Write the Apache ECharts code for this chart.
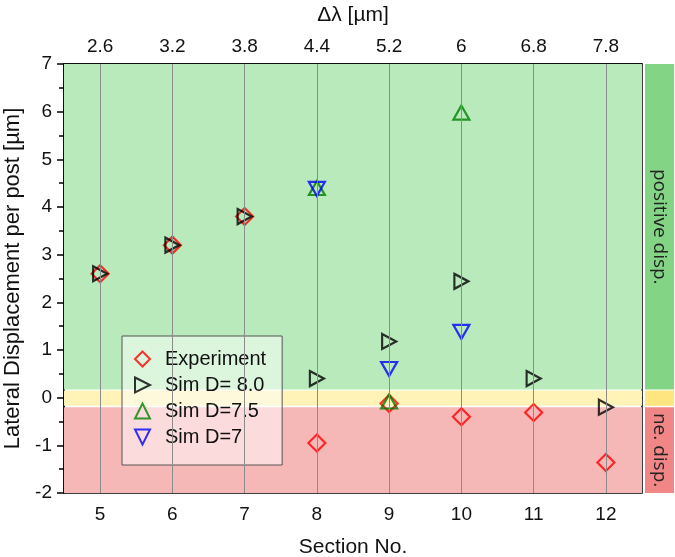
<!DOCTYPE html>
<html>
<head>
<meta charset="utf-8">
<script src="https://cdn.jsdelivr.net/npm/echarts@6/dist/echarts.min.js"></script>
<style>
  html, body { margin: 0; padding: 0; background: #fff; }
  #chart { width: 675px; height: 557px; }
</style>
</head>
<body>
<div id="chart"></div>
<script>
// section numbers and the matching wavelength shift labels (top axis)
var sections = [5, 6, 7, 8, 9, 10, 11, 12];
var dLambda = ["2.6", "3.2", "3.8", "4.4", "5.2", "6", "6.8", "7.8"];

// measured / simulated lateral displacement per post [µm]
var experiment = [2.6, 3.2, 3.8, -0.95, -0.12, -0.4, -0.31, -1.36];
var simD80 = [2.6, 3.2, 3.8, 0.4, 1.18, 2.44, 0.4, -0.2];
var simD75Sections = [8, 9, 10];
var simD75 = [4.4, -0.08, 5.98];
var simD7Sections = [8, 9, 10];
var simD7 = [4.38, 0.6, 1.38];

// background bands: positive / zero / negative displacement
var bandPos = [0.17, 7];
var bandZero = [-0.17, 0.15];
var bandNeg = [-2, -0.2];

function pairs(xs, ys) {
  return xs.map(function (x, i) { return [x, ys[i]]; });
}

var font = "Liberation Sans, Arial, sans-serif";
var narrow = "Liberation Sans Narrow, Arial Narrow, Liberation Sans, sans-serif";
var rightTri = "path://M0,0 L10,5 L0,10 Z";
var downTri = "path://M0,0 L10,0 L5,10 Z";

function hollow(color) {
  return { color: "rgba(0,0,0,0)", borderColor: color, borderWidth: 2.2 };
}

var chart = echarts.init(document.getElementById("chart"));
chart.setOption({
  animation: false,
  grid: [
    { left: 64, right: 33, top: 64, bottom: 64, outerBoundsMode: "none", show: true, borderColor: "#000", borderWidth: 1.5 },
    { left: 645, right: 1, top: 64, bottom: 64, outerBoundsMode: "none" }
  ],
  legend: {
    orient: "vertical",
    left: 122,
    top: 336,
    padding: [13, 16, 18, 12],
    itemGap: 6,
    itemWidth: 15,
    itemHeight: 15,
    backgroundColor: "rgba(255,255,255,0.5)",
    borderColor: "#555",
    borderWidth: 1,
    textStyle: { fontFamily: font, fontSize: 20, color: "#111", padding: [0, 0, 0, 10] },
    data: ["Experiment", "Sim D= 8.0", "Sim D=7.5", "Sim D=7"]
  },
  xAxis: [
    {
      type: "value", gridIndex: 0, min: 4.5, max: 12.5,
      name: "Section No.", nameLocation: "middle", nameGap: 44,
      nameTextStyle: { fontFamily: font, fontSize: 21, color: "#111" },
      axisLine: { show: true, lineStyle: { color: "#000", width: 1.5 } },
      axisTick: { show: true, inside: false, length: 5, customValues: sections, lineStyle: { color: "#000", width: 1.5 } },
      axisLabel: { customValues: sections, margin: 12, fontFamily: narrow, fontSize: 19, color: "#111" },
      splitLine: { show: false }
    },
    {
      type: "value", gridIndex: 0, position: "top", min: 4.5, max: 12.5,
      name: "Δλ [µm]", nameLocation: "middle", nameGap: 38,
      nameTextStyle: { fontFamily: font, fontSize: 21, color: "#111" },
      axisLine: { show: true, lineStyle: { color: "#000", width: 1.5 } },
      axisTick: { show: true, inside: true, length: 6, customValues: sections, lineStyle: { color: "#000", width: 1.5 } },
      axisLabel: {
        customValues: sections, margin: 8, fontFamily: narrow, fontSize: 19, color: "#111",
        formatter: function (v) { return dLambda[sections.indexOf(v)]; }
      },
      splitLine: { show: false }
    },
    { type: "value", gridIndex: 1, min: 0, max: 1, show: false }
  ],
  yAxis: [
    {
      type: "value", gridIndex: 0, min: -2, max: 7, interval: 1,
      name: "Lateral Displacement per post [µm]", nameLocation: "middle", nameGap: 40,
      nameTextStyle: { fontFamily: font, fontSize: 22, color: "#111" },
      axisLine: { show: true, lineStyle: { color: "#000", width: 1.5 } },
      axisTick: { show: true, inside: false, length: 7, lineStyle: { color: "#000", width: 1.5 } },
      minorTick: { show: true, splitNumber: 2, length: 5, lineStyle: { color: "#000", width: 1.5 } },
      axisLabel: { margin: 12, fontFamily: narrow, fontSize: 19, color: "#111" },
      splitLine: { show: false }
    },
    { type: "value", gridIndex: 1, min: -2, max: 7, show: false }
  ],
  series: [
    {
      name: "bands", type: "scatter", xAxisIndex: 0, yAxisIndex: 0, data: [], silent: true,
      markArea: {
        silent: true,
        data: [
          [{ yAxis: bandPos[0], itemStyle: { color: "#b8eabb" } }, { yAxis: bandPos[1] }],
          [{ yAxis: bandZero[0], itemStyle: { color: "#fff3b8" } }, { yAxis: bandZero[1] }],
          [{ yAxis: bandNeg[0], itemStyle: { color: "#f6b7b7" } }, { yAxis: bandNeg[1] }]
        ]
      },
      markLine: {
        silent: true, symbol: "none", label: { show: false },
        lineStyle: { color: "#8c8c8c", width: 1, type: "solid" },
        data: sections.map(function (s) { return { xAxis: s }; })
      }
    },
    {
      name: "strip", type: "scatter", xAxisIndex: 2, yAxisIndex: 1, data: [], silent: true,
      markArea: {
        silent: true,
        label: { show: true, position: "inside", rotate: -90, fontFamily: "Open Sans, sans-serif", fontSize: 19, color: "#222" },
        data: [
          [{ yAxis: bandPos[0], name: "positive disp.", itemStyle: { color: "#84d486" } }, { yAxis: bandPos[1] }],
          [{ yAxis: bandZero[0], name: "", itemStyle: { color: "#ffe580" } }, { yAxis: bandZero[1] }],
          [{ yAxis: bandNeg[0], name: "ne. disp.", itemStyle: { color: "#f08686" } }, { yAxis: bandNeg[1] }]
        ]
      }
    },
    {
      name: "Experiment", type: "scatter", xAxisIndex: 0, yAxisIndex: 0,
      symbol: "diamond", symbolSize: 17, itemStyle: hollow("#ff0000"),
      data: pairs(sections, experiment)
    },
    {
      name: "Sim D= 8.0", type: "scatter", xAxisIndex: 0, yAxisIndex: 0,
      symbol: rightTri, symbolSize: [14, 15], itemStyle: hollow("#000000"),
      data: pairs(sections, simD80)
    },
    {
      name: "Sim D=7.5", type: "scatter", xAxisIndex: 0, yAxisIndex: 0,
      symbol: "triangle", symbolSize: [16, 14], itemStyle: hollow("#008000"),
      data: pairs(simD75Sections, simD75)
    },
    {
      name: "Sim D=7", type: "scatter", xAxisIndex: 0, yAxisIndex: 0,
      symbol: downTri, symbolSize: [16, 14], itemStyle: hollow("#0000ff"),
      data: pairs(simD7Sections, simD7)
    }
  ]
});
</script>
</body>
</html>
